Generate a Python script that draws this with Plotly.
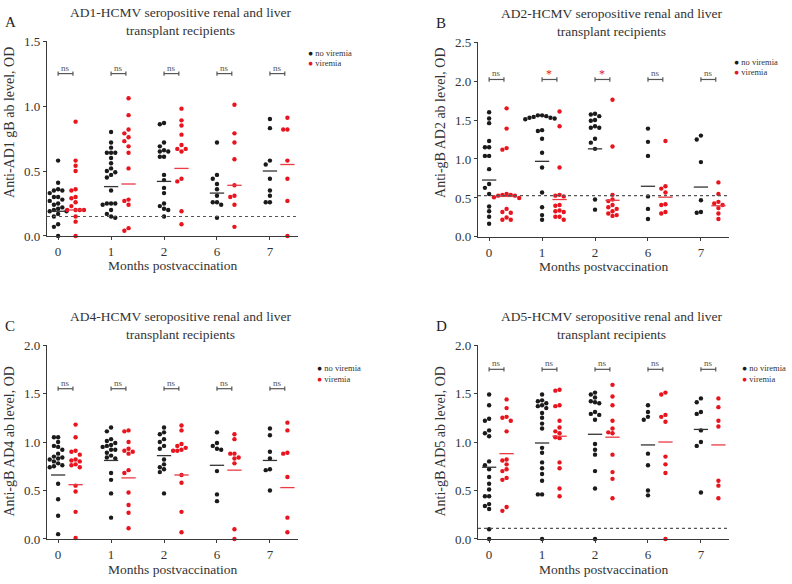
import plotly.graph_objects as go

# ---------------- data ----------------
months = ['0', '1', '2', '6', '7']

# Panel A : anti-AD1 gB
A_no = [[0.58, 0.41, 0.36, 0.35, 0.35, 0.33, 0.30, 0.30, 0.28, 0.27, 0.25, 0.24, 0.22, 0.21, 0.20, 0.19, 0.19, 0.17, 0.15, 0.09, 0.07, 0.0],
        [0.80, 0.72, 0.68, 0.64, 0.64, 0.64, 0.60, 0.56, 0.52, 0.50, 0.49, 0.47, 0.45, 0.35, 0.25, 0.25, 0.25, 0.24, 0.20, 0.17, 0.15, 0.14],
        [0.87, 0.86, 0.72, 0.69, 0.66, 0.65, 0.65, 0.61, 0.61, 0.47, 0.43, 0.37, 0.33, 0.25, 0.23, 0.21, 0.20, 0.15],
        [0.72, 0.47, 0.44, 0.40, 0.36, 0.31, 0.26, 0.26, 0.24, 0.14],
        [0.90, 0.83, 0.58, 0.55, 0.44, 0.35, 0.31, 0.26, 0.26]]
A_vir = [[0.88, 0.58, 0.54, 0.50, 0.36, 0.35, 0.30, 0.29, 0.26, 0.23, 0.20, 0.20, 0.20, 0.20, 0.15, 0.11, 0.0],
         [1.06, 0.93, 0.82, 0.79, 0.76, 0.73, 0.69, 0.64, 0.52, 0.28, 0.27, 0.24, 0.06, 0.04],
         [0.98, 0.89, 0.85, 0.78, 0.70, 0.67, 0.67, 0.65, 0.44, 0.42, 0.19, 0.09],
         [1.01, 0.79, 0.72, 0.59, 0.39, 0.31, 0.30, 0.24, 0.07],
         [0.91, 0.82, 0.82, 0.58, 0.44, 0.27, 0.0]]
A_med_no = [0.19, 0.38, 0.42, 0.33, 0.50]
A_med_vir = [0.20, 0.40, 0.52, 0.39, 0.55]
A_sig = ['ns', 'ns', 'ns', 'ns', 'ns']

# Panel B : anti-gB AD2
B_no = [[1.60, 1.52, 1.46, 1.23, 1.15, 1.15, 1.04, 1.04, 0.87, 0.68, 0.63, 0.55, 0.39, 0.33, 0.26, 0.17],
        [1.56, 1.56, 1.55, 1.54, 1.53, 1.53, 1.52, 1.51, 1.37, 1.36, 1.26, 1.08, 0.89, 0.57, 0.38, 0.28, 0.22],
        [1.58, 1.57, 1.55, 1.50, 1.49, 1.42, 1.40, 1.40, 1.26, 1.21, 1.13, 0.48, 0.35],
        [1.39, 1.22, 1.04, 0.52, 0.36, 0.23],
        [1.30, 1.25, 0.96, 0.47, 0.32, 0.31]]
B_vir = [[1.65, 1.39, 1.14, 1.12, 0.55, 0.54, 0.54, 0.53, 0.53, 0.51, 0.50, 0.36, 0.32, 0.31, 0.25, 0.22, 0.22],
         [1.61, 1.42, 0.89, 0.54, 0.53, 0.52, 0.41, 0.40, 0.34, 0.33, 0.32, 0.26, 0.26, 0.22],
         [1.76, 1.16, 0.54, 0.48, 0.46, 0.41, 0.38, 0.36, 0.33, 0.30, 0.28, 0.27],
         [1.23, 0.65, 0.62, 0.57, 0.42, 0.41, 0.32, 0.30],
         [0.70, 0.55, 0.45, 0.43, 0.41, 0.37, 0.30, 0.23]]
B_med_no = [0.73, 0.97, 1.13, 0.65, 0.64]
B_med_vir = [0.52, 0.48, 0.47, 0.51, 0.40]
B_sig = ['ns', '*', '*', 'ns', 'ns']

# Panel C : anti-gB AD4
C_no = [[1.05, 1.05, 1.00, 0.96, 0.95, 0.92, 0.88, 0.85, 0.84, 0.83, 0.82, 0.80, 0.78, 0.76, 0.75, 0.74, 0.57, 0.41, 0.24, 0.05],
        [1.15, 1.11, 1.03, 1.01, 0.99, 0.97, 0.96, 0.95, 0.92, 0.92, 0.89, 0.86, 0.84, 0.83, 0.68, 0.61, 0.47, 0.22],
        [1.15, 1.10, 1.08, 1.03, 1.00, 0.96, 0.93, 0.82, 0.77, 0.74, 0.72, 0.69, 0.47],
        [1.10, 0.99, 0.96, 0.93, 0.92, 0.70, 0.46, 0.39],
        [1.14, 1.07, 0.90, 0.83, 0.72, 0.71, 0.50]]
C_vir = [[1.18, 1.05, 0.91, 0.90, 0.87, 0.82, 0.81, 0.80, 0.77, 0.76, 0.74, 0.55, 0.49, 0.28, 0.01],
         [1.12, 1.11, 1.00, 0.93, 0.91, 0.90, 0.88, 0.71, 0.68, 0.48, 0.35, 0.27, 0.11],
         [1.17, 1.12, 0.98, 0.96, 0.94, 0.92, 0.91, 0.91, 0.66, 0.58, 0.28, 0.07],
         [1.08, 1.03, 0.88, 0.88, 0.84, 0.83, 0.78, 0.10, 0.0],
         [1.20, 1.12, 0.89, 0.88, 0.64, 0.22, 0.07]]
C_med_no = [0.66, 0.81, 0.86, 0.76, 0.81]
C_med_vir = [0.56, 0.63, 0.66, 0.71, 0.53]
C_sig = ['ns', 'ns', 'ns', 'ns', 'ns']

# Panel D : anti-gB AD5
D_no = [[1.49, 1.38, 1.24, 1.22, 1.12, 1.09, 1.06, 0.80, 0.76, 0.72, 0.64, 0.57, 0.51, 0.44, 0.44, 0.36, 0.34, 0.31, 0.10, 0.0],
        [1.49, 1.43, 1.42, 1.40, 1.38, 1.37, 1.35, 1.30, 1.25, 1.19, 1.14, 0.94, 0.89, 0.79, 0.73, 0.67, 0.60, 0.46, 0.46, 0.0],
        [1.51, 1.49, 1.46, 1.42, 1.41, 1.40, 1.31, 1.29, 1.28, 1.23, 0.98, 0.92, 0.87, 0.70, 0.52, 0.0],
        [1.38, 1.31, 1.26, 1.23, 0.88, 0.76, 0.50, 0.45],
        [1.45, 1.41, 1.31, 1.29, 1.12, 1.00, 0.96, 0.48]]
D_vir = [[1.44, 1.35, 1.26, 1.25, 1.22, 1.11, 0.82, 0.81, 0.77, 0.72, 0.70, 0.63, 0.61, 0.33, 0.29],
         [1.54, 1.53, 1.38, 1.37, 1.22, 1.15, 1.11, 1.09, 1.05, 1.04, 0.79, 0.73, 0.52, 0.44],
         [1.59, 1.47, 1.38, 1.22, 1.14, 1.10, 1.09, 0.87, 0.69, 0.62, 0.42],
         [1.51, 1.49, 1.28, 1.26, 1.21, 0.85, 0.77, 0.68, 0.0],
         [1.45, 1.36, 1.22, 1.16, 0.60, 0.55, 0.42]]
D_med_no = [0.74, 0.99, 1.08, 0.97, 1.13]
D_med_vir = [0.88, 1.06, 1.05, 1.00, 0.97]
D_sig = ['ns', 'ns', 'ns', 'ns', 'ns']

# ---------------- layout helpers ----------------
W, H = 792, 584
FONT = 'Liberation Serif'
BLACK = '#1a1a1a'
RED = '#e8141e'
AXC = '#3a3a3a'


def px(x, y):
    return x / W, 1 - y / H


panels = [
    dict(label='A', ax='', no=A_no, vir=A_vir, med_no=A_med_no, med_vir=A_med_vir, sig=A_sig,
         ymax=1.5, cutoff=0.15, bracket=1.25, box=(47, 298, 35, 235),
         title='AD1-HCMV seropositive renal and liver<br>transplant recipients',
         ytitle='Anti-AD1 gB ab level, OD'),
    dict(label='B', ax='2', no=B_no, vir=B_vir, med_no=B_med_no, med_vir=B_med_vir, sig=B_sig,
         ymax=2.5, cutoff=0.53, bracket=2.02, box=(478, 729, 36, 236),
         title='AD2-HCMV seropositive renal and liver<br>transplant recipients',
         ytitle='Anti-gB AD2 ab level, OD'),
    dict(label='C', ax='3', no=C_no, vir=C_vir, med_no=C_med_no, med_vir=C_med_vir, sig=C_sig,
         ymax=2.0, cutoff=None, bracket=1.55, box=(47, 298, 347, 546),
         title='AD4-HCMV seropositive renal and liver<br>transplant recipients',
         ytitle='Anti-gB AD4 ab level, OD'),
    dict(label='D', ax='4', no=D_no, vir=D_vir, med_no=D_med_no, med_vir=D_med_vir, sig=D_sig,
         ymax=2.0, cutoff=0.11, bracket=1.75, box=(478, 729, 347, 546),
         title='AD5-HCMV seropositive renal and liver<br>transplant recipients',
         ytitle='Anti-gB AD5 ab level, OD'),
]

XMIN, XMAX = -0.21, 4.53
VIR_OFF = 0.33          # horizontal offset of viremia column
MED_HALF = 0.135        # half width of median bar


def swarm(values, ppu_x, ppu_y, d=4.2):
    # simple deterministic beeswarm in pixel space
    placed = []
    out = [0.0] * len(values)
    order = sorted(range(len(values)), key=lambda k: -values[k])
    cands = [0.0]
    for j in range(1, 8):
        cands += [-j * d, j * d]
    for k in order:
        yp = values[k] * ppu_y
        for c in cands:
            if all((c - a) ** 2 + (yp - b) ** 2 >= (d * 0.98) ** 2 for a, b in placed):
                placed.append((c, yp))
                out[k] = c / ppu_x
                break
    return out


def note(x, y, text, size, color='#333333', xanchor='center', yanchor='middle', **kw):
    gx, gy = px(x, y)
    return dict(x=gx, y=gy, xref='paper', yref='paper', text=text, showarrow=False,
                xanchor=xanchor, yanchor=yanchor,
                font=dict(family=FONT, size=size, color=color), **kw)


fig = go.Figure()
annotations = []
shapes = []

for p in panels:
    x0, x1, ytop, ybot = p['box']
    ppu_x = (x1 - x0) / (XMAX - XMIN)
    ppu_y = (ybot - ytop) / p['ymax']
    xa, ya = 'x' + p['ax'], 'y' + p['ax']

    for grp, off, col in ((p['no'], 0.0, BLACK), (p['vir'], VIR_OFF, RED)):
        xs, ys = [], []
        for i, vals in enumerate(grp):
            jit = swarm(vals, ppu_x, ppu_y)
            xs += [i + off + j for j in jit]
            ys += vals
        fig.add_trace(go.Scatter(x=xs, y=ys, mode='markers', xaxis=xa, yaxis=ya,
                                 marker=dict(size=4.4, color=col, line=dict(width=0)),
                                 cliponaxis=False, showlegend=False, hoverinfo='y'))

    # median bars
    for meds, off, col in ((p['med_no'], 0.0, '#333333'), (p['med_vir'], VIR_OFF, '#ea3a44')):
        mx, my = [], []
        for i, m in enumerate(meds):
            mx += [i + off - MED_HALF, i + off + MED_HALF, None]
            my += [m, m, None]
        fig.add_trace(go.Scatter(x=mx, y=my, mode='lines', xaxis=xa, yaxis=ya,
                                 line=dict(color=col, width=1.3),
                                 showlegend=False, hoverinfo='skip'))

    # significance brackets
    cap = 2.2 / ppu_y
    bx, by = [], []
    yb = p['bracket']
    for i in range(len(months)):
        l, r = i, i + 0.28
        bx += [l, l, None, l, r, None, r, r, None]
        by += [yb - cap, yb + cap, None, yb, yb, None, yb - cap, yb + cap, None]
        s = p['sig'][i]
        annotations.append(dict(x=i + 0.14, y=yb, xref=xa, yref=ya, text=s, showarrow=False,
                                xanchor='center', yanchor='bottom',
                                yshift=-1 if s == 'ns' else -4,
                                font=dict(family=FONT, size=9 if s == 'ns' else 12,
                                          color='#555555' if s == 'ns' else RED)))
    fig.add_trace(go.Scatter(x=bx, y=by, mode='lines', xaxis=xa, yaxis=ya,
                             line=dict(color='#555555', width=1.2),
                             showlegend=False, hoverinfo='skip'))

    # cutoff line
    if p['cutoff'] is not None:
        shapes.append(dict(type='line', xref=xa + ' domain', yref=ya, x0=0, x1=1,
                           y0=p['cutoff'], y1=p['cutoff'],
                           line=dict(color='#555555', width=1.2, dash='dot')))

    # axes
    dom_x = [x0 / W, x1 / W]
    dom_y = [1 - ybot / H, 1 - ytop / H]
    axis_common = dict(showline=True, linecolor=AXC, linewidth=1.2, ticks='outside',
                       ticklen=3, tickcolor=AXC, showgrid=False, zeroline=False,
                       tickfont=dict(family=FONT, size=13, color='#333333'))
    fig.update_layout({
        'xaxis' + p['ax']: dict(domain=dom_x, range=[XMIN, XMAX], anchor=ya,
                                tickvals=list(range(len(months))), ticktext=months, **axis_common),
        'yaxis' + p['ax']: dict(domain=dom_y, range=[0, p['ymax']], anchor=xa,
                                dtick=0.5, tickformat='.1f', **axis_common),
    })

    # titles and labels
    cx = (x0 + x1) / 2 + 8
    annotations.append(note(cx, ytop - 20, p['title'], 13.5))
    annotations.append(note(x0 - 44, ytop - 20, p['label'], 15, color='#222222', xanchor='left'))
    annotations.append(note((x0 + x1) / 2, ybot + (30 if p['label'] in 'AB' else 31),
                            'Months postvaccination', 13.5))
    ycen = 119 if p['label'] in 'AB' else 446
    annotations.append(note(x0 - 37, ycen, p['ytitle'], 14, textangle=-90))

    # legend
    lgx = x1 + (8 if p['label'] == 'A' else 3 if p['label'] == 'B' else 17 if p['label'] == 'C' else 11)
    lgy = ytop + (12 if p['label'] == 'A' else 20 if p['label'] == 'B' else 24)
    for k, (name, col) in enumerate((('no viremia', BLACK), ('viremia', RED))):
        annotations.append(note(lgx, lgy + k * 10.5,
                                f"<span style='color:{col}'>●</span> {name}", 8.5,
                                xanchor='left'))

fig.update_layout(width=W, height=H, margin=dict(l=0, r=0, t=0, b=0),
                  paper_bgcolor='white', plot_bgcolor='white',
                  annotations=annotations, shapes=shapes, showlegend=False)

fig.write_html("out.html", config={'displayModeBar': False},
               post_script="document.body.style.margin='0px';")
